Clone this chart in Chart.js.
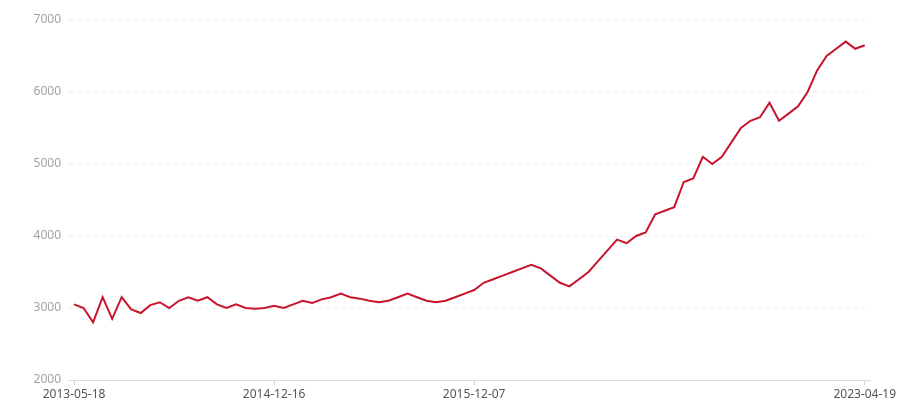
<!DOCTYPE html>
<html>
<head>
<meta charset="utf-8">
<script src="https://cdn.jsdelivr.net/npm/chart.js@4"></script>
<style>
html,body{margin:0;padding:0;background:#fff;}
#wrap{width:900px;height:400px;}
</style>
</head>
<body>
<div id="wrap"><canvas id="c" width="900" height="400"></canvas></div>
<script>
const values = [
  3050,3000,2800,3150,2850,3150,2980,2930,3040,3080,
  3000,3100,3150,3100,3150,3050,3000,3050,3000,2990,
  3000,3030,3000,3050,3100,3070,3120,3150,3200,3150,
  3130,3100,3080,3100,3150,3200,3150,3100,3080,3100,
  3150,3200,3250,3350,3400,3450,3500,3550,3600,3550,
  3450,3350,3300,3400,3500,3650,3800,3950,3900,4000,
  4050,4300,4350,4400,4750,4800,5100,5000,5100,5300,
  5500,5600,5650,5850,5600,5700,5800,6000,6300,6500,
  6600,6700,6600,6650
];
const tickIndex = [0, 21, 42, 83];
const tickLabels = ['2013-05-18', '2014-12-16', '2015-12-07', '2023-04-19'];
const yTicks = [2000, 3000, 4000, 5000, 6000, 7000];

const points = values.map((v, i) => ({x: i, y: v}));
const FONT = '"Noto Sans", "Open Sans", sans-serif';

new Chart(document.getElementById('c'), {
  type: 'line',
  data: {
    datasets: [{
      data: points,
      borderColor: '#c8142d',
      borderWidth: 2,
      pointRadius: 0,
      tension: 0,
      fill: false
    }]
  },
  options: {
    responsive: false,
    animation: false,
    layout: {padding: {top: 20, right: 30, left: 0, bottom: 0}},
    plugins: {legend: {display: false}, tooltip: {enabled: false}},
    scales: {
      x: {
        type: 'linear',
        min: -0.53,
        max: 83.55,
        afterBuildTicks: (s) => { s.ticks = tickIndex.map(v => ({value: v})); },
        afterFit: (s) => { s.height = 20; },
        ticks: {
          autoSkip: false,
          maxRotation: 0,
          padding: 2,
          color: '#555',
          font: {family: FONT, size: 12},
          callback: (v) => { const k = tickIndex.indexOf(v); return k >= 0 ? tickLabels[k] : ''; }
        },
        grid: {drawOnChartArea: false, drawTicks: true, tickLength: 5, color: '#cfcfcf'},
        border: {display: true, color: '#dcdcdc', width: 1}
      },
      y: {
        min: 2000,
        max: 7000,
        afterBuildTicks: (s) => { s.ticks = yTicks.map(v => ({value: v})); },
        afterFit: (s) => { s.width = 69; },
        ticks: {
          padding: 8,
          color: '#a0a0a0',
          font: {family: FONT, size: 12},
          callback: (v) => String(v)
        },
        grid: {drawTicks: false, color: '#ebebeb', lineWidth: 1},
        border: {display: false, dash: [4, 4]}
      }
    }
  }
});
</script>
</body>
</html>
